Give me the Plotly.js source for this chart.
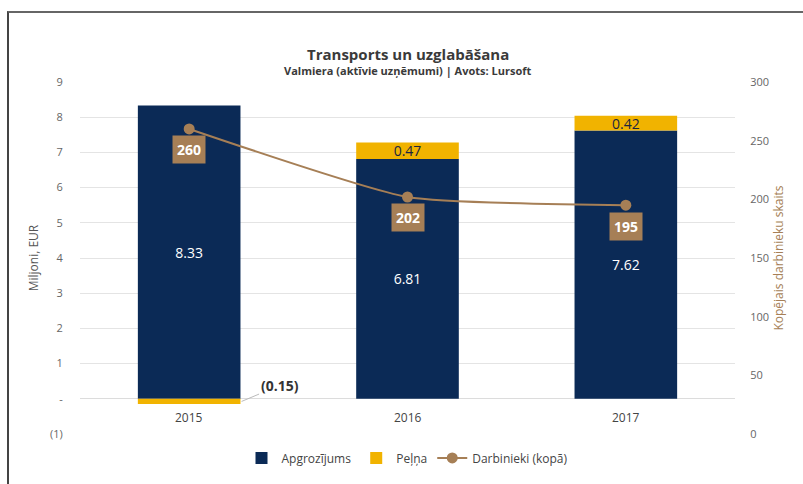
<!DOCTYPE html>
<html>
<head>
<meta charset="utf-8">
<script src="https://cdn.plot.ly/plotly-3.0.1.min.js"></script>
<style>
  html, body { margin: 0; padding: 0; background: #fff; }
  #frame { position: absolute; left: 0; top: 0; width: 803px; height: 484px; }
  #border { position: absolute; left: 7px; top: 11px; width: 796px; height: 473px;
            border-left: 2px solid #444; border-top: 2px solid #666; box-sizing: border-box; pointer-events: none; }
  #chart { position: absolute; left: 0; top: 0; width: 803px; height: 484px; }
</style>
</head>
<body>
<div id="frame">
  <div id="chart"></div>
  <div id="border"></div>
</div>
<script>
const years = [2015, 2016, 2017];
const apgrozijums = [8.33, 6.81, 7.62];
const pelna = [-0.15, 0.47, 0.42];
const darbinieki = [260, 202, 195];
const leftTickVals = [-1, 0, 1, 2, 3, 4, 5, 6, 7, 8, 9];
const leftTickText = ['(1)', '-', '1', '2', '3', '4', '5', '6', '7', '8', '9'];
const rightTickVals = [0, 50, 100, 150, 200, 250, 300];

const navy = '#0b2a56';
const gold = '#f1b300';
const brown = '#a67f56';
const font = 'Open Sans, Lato, sans-serif';

const traces = [
  {
    type: 'bar', name: 'Apgrozījums', x: years, y: apgrozijums,
    marker: { color: navy },
    text: apgrozijums.map(v => v.toFixed(2)), textposition: 'inside', insidetextanchor: 'middle',
    textfont: { color: '#ffffff', size: 14, family: font }, hoverinfo: 'none'
  },
  {
    type: 'bar', name: 'Peļņa', x: years, y: pelna,
    marker: { color: gold },
    text: pelna.map(v => v > 0 ? v.toFixed(2) : ''), textposition: 'inside', insidetextanchor: 'middle',
    constraintext: 'none', cliponaxis: false,
    textfont: { color: '#1a2540', size: 14, family: font }, hoverinfo: 'none'
  },
  {
    type: 'scatter', mode: 'lines+markers', name: 'Darbinieki (kopā)', x: years, y: darbinieki,
    yaxis: 'y2', line: { color: brown, width: 2, shape: 'spline', smoothing: 0.5 },
    marker: { color: brown, size: 11 }, hoverinfo: 'none'
  }
];

const annotations = [];
years.forEach((yr, i) => {
  annotations.push({
    x: yr, y: 0, xref: 'x', yref: 'y', text: String(yr), showarrow: false,
    yanchor: 'top', yshift: -8, font: { size: 12, color: '#444', family: font }
  });
  annotations.push({
    x: yr, y: darbinieki[i], xref: 'x', yref: 'y2', text: '<b>' + darbinieki[i] + '</b>',
    showarrow: false, yshift: -21, bgcolor: brown, borderpad: 4,
    font: { size: 14, color: '#ffffff', family: font }
  });
  if (pelna[i] < 0) {
    annotations.push({
      x: yr + 0.24, y: pelna[i] / 2, xref: 'x', yref: 'y',
      text: '<b>(' + Math.abs(pelna[i]).toFixed(2) + ')</b>',
      showarrow: true, arrowhead: 0, arrowwidth: 1, arrowcolor: '#bbbbbb',
      ax: 38, ay: -16, font: { size: 14, color: '#333', family: font }
    });
  }
});

annotations.push({
  xref: 'paper', yref: 'paper', x: 0.5, y: 1, yshift: 40, text: '<b>Transports un uzglabāšana</b>',
  showarrow: false, font: { size: 15, color: '#3a3a3a', family: font }
});
annotations.push({
  xref: 'paper', yref: 'paper', x: 0.5, y: 1, yshift: 21, text: '<b>Valmiera (aktīvie uzņēmumi) | Avots: Lursoft</b>',
  showarrow: false, font: { size: 11, color: '#3a3a3a', family: font }
});

const layout = {
  width: 803, height: 484,
  margin: { l: 80, r: 68, t: 82, b: 45 },
  paper_bgcolor: 'rgba(0,0,0,0)', plot_bgcolor: 'rgba(0,0,0,0)',
  barmode: 'relative', bargap: 0.53,
  showlegend: true,
  legend: { orientation: 'h', x: 0.5, xanchor: 'center', y: -0.068, yanchor: 'middle',
            font: { size: 12, color: '#444', family: font }, traceorder: 'normal' },
  xaxis: { type: 'linear', range: [2014.5, 2017.5], showticklabels: false, showgrid: false, zeroline: false, showline: false, ticks: '' },
  yaxis: {
    range: [-1, 9], tickvals: leftTickVals, ticktext: leftTickText,
    showgrid: true, gridcolor: '#e4e4e4', gridwidth: 1, zeroline: true, zerolinecolor: '#dcdcdc',
    tickfont: { size: 11, color: '#666', family: font }, ticks: 'outside', tickcolor: 'rgba(0,0,0,0)', ticklen: 14,
    title: { text: 'Miljoni, EUR', font: { size: 12, color: '#555', family: font }, standoff: 8 }
  },
  yaxis2: {
    overlaying: 'y', side: 'right', range: [0, 300], tickvals: rightTickVals,
    showgrid: false, zeroline: false,
    tickfont: { size: 11, color: '#666', family: font }, ticks: 'outside', tickcolor: 'rgba(0,0,0,0)', ticklen: 12,
    title: { text: 'Kopējais darbinieku skaits', font: { size: 12, color: brown, family: font }, standoff: 6 }
  },
  annotations: annotations
};

Plotly.newPlot('chart', traces, layout, { displayModeBar: false, staticPlot: true });
</script>
</body>
</html>
